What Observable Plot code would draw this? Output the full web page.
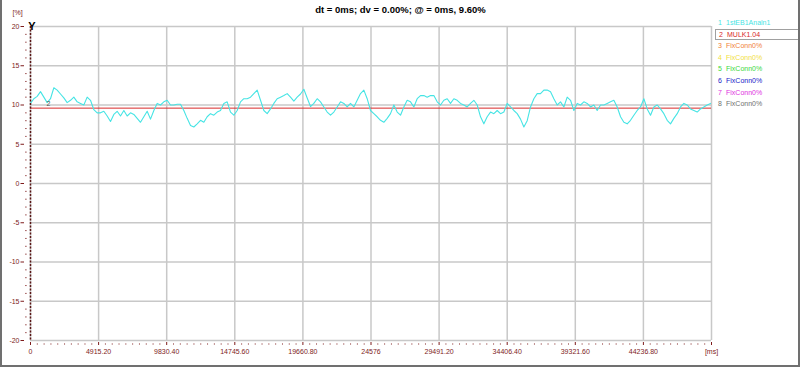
<!DOCTYPE html>
<html><head><meta charset="utf-8">
<script src="https://cdn.jsdelivr.net/npm/d3@7"></script>
<script src="https://cdn.jsdelivr.net/npm/@observablehq/plot@0.6"></script>
<style>
html,body{margin:0;padding:0;background:#fff;}
#wrap{position:relative;width:800px;height:367px;overflow:hidden;font-family:"Liberation Sans",Arial,sans-serif;}
#wrap svg{position:absolute;left:0;top:0;}
#border{position:absolute;left:0;top:0;width:800px;height:367px;box-sizing:border-box;border-left:2px solid #707070;border-right:2px solid #707070;border-bottom:2px solid #707070;pointer-events:none;}
#legend{position:absolute;left:715px;top:17px;width:90px;font-size:7px;}
.item{height:11.6px;line-height:11.6px;padding-left:3px;white-space:nowrap;box-sizing:border-box;}
.item .n{display:inline-block;width:8px;}
.boxed{border:1px solid #a0a0a0;line-height:9.6px;}
</style></head>
<body><div id="wrap"><div id="legend"></div><div id="border"></div></div>
<script>
// ---- data ----
const title = "dt = 0ms; dv = 0.00%; @ = 0ms, 9.60%";
const yUnit = "[%]";
const xUnit = "[ms]";
const xDomain = [0, 49152];
const yDomain = [-20, 20];
const xTicks = [0, 4915.2, 9830.4, 14745.6, 19660.8, 24576, 29491.2, 34406.4, 39321.6, 44236.8, 49152];
const xTickLabels = ["0", "4915.20", "9830.40", "14745.60", "19660.80", "24576", "29491.20", "34406.40", "39321.60", "44236.80", xUnit];
const yTicks = [-20, -15, -10, -5, 0, 5, 10, 15, 20];
const refLevel = 9.6;          // channel 2, MULK1.04
const refLabel = "2";
const refLabelMs = 1300;
const cursorMs = 0;
const sampleStepMs = 240.6;
// channel 1 (1stEB1Analn1), % values sampled every sampleStepMs
const channel1 = [
  10.2, 10.8, 11.1, 11.7, 11.0, 10.3, 10.8, 12.2, 11.9, 11.4,
  10.9, 10.3, 10.6, 11.0, 10.4, 10.2, 10.0, 11.0, 10.6, 9.4,
  9.0, 9.0, 9.2, 8.6, 7.9, 8.8, 9.2, 8.6, 9.3, 8.6,
  9.0, 8.8, 8.3, 7.8, 8.5, 9.2, 8.2, 9.3, 10.2, 10.0,
  10.4, 10.6,
  10.0, 10.0, 10.1, 10.1, 9.3, 8.3, 7.4, 7.2, 7.6, 8.05,
  7.8, 8.5, 8.9, 8.7, 9.1, 9.3, 10.2, 10.4, 9.1, 8.7,
  9.3, 10.4, 10.8, 10.8, 11.0, 11.45, 11.9, 10.6, 9.3, 8.9,
  9.5, 10.2, 10.8, 11.0, 11.2, 11.45,
  11.0, 10.5, 11.0, 11.4, 12.0, 10.9, 9.8, 10.2, 10.8, 10.4,
  9.75, 9.1, 8.7, 9.1, 9.75, 10.4, 10.2, 9.75, 10.2, 9.75,
  10.6, 11.45, 11.9, 10.8, 9.3, 8.9, 8.5, 8.05, 7.8, 8.3,
  8.9, 10.0, 9.1, 8.7, 9.75, 10.6, 10.4, 9.75, 10.8, 11.2,
  11.2, 11.0,
  11.2, 11.2, 10.4, 10.0, 10.6, 10.8, 10.2, 10.8, 10.6, 10.2,
  10.0, 9.75, 10.2, 10.6, 10.0, 8.5, 7.6, 8.5, 9.1, 8.9,
  9.3, 8.9, 9.1, 10.2, 9.75, 9.3, 8.9, 8.2, 7.2, 8.0,
  9.75, 10.8, 11.45, 11.45, 11.9, 11.9, 11.7, 10.8, 10.0, 10.4,
  9.75, 11.0, 10.6, 9.3, 10.2, 10.0, 10.4, 10.2, 9.75, 10.0,
  9.3,
  10.0, 10.0, 10.2, 10.4, 10.6, 9.75, 8.5, 7.8, 7.6, 8.05,
  8.7, 9.3, 9.75, 10.8, 9.5, 8.7, 9.75, 10.0, 9.5, 8.9,
  8.05, 7.6, 8.3, 8.9, 9.75, 10.2, 10.0, 9.5, 9.3, 9.1,
  9.5, 9.75, 10.0, 10.2
];
const legendNames = ["1stEB1Analn1", "MULK1.04", "FixConn0%", "FixConn0%", "FixConn0%", "FixConn0%", "FixConn0%", "FixConn0%"];
const legendColors = ["#46e4e4", "#d82828", "#f08038", "#f2e040", "#3cd83c", "#2020c8", "#e030e0", "#707070"];
const activeChannel = 2;

// ---- styles ----
const maroon = "#7e1c1c";
const gridColor = "#c8c8c8";

const series = channel1.map((v, i) => ({t: i * sampleStepMs, v}));
const yMinor = d3.range(yDomain[0], yDomain[1] + 0.5, 1).filter(d => !yTicks.includes(d));
const xMinor = d3.range(0, 10 * 10 + 1).map(k => k * xTicks[1] / 10).filter((d, k) => k % 10 !== 0);

const chart = Plot.plot({
  width: 800,
  height: 367,
  marginLeft: 30,
  marginRight: 89,
  marginTop: 26,
  marginBottom: 27,
  x: {domain: xDomain},
  y: {domain: yDomain},
  style: {fontFamily: "'Liberation Sans', Arial, sans-serif", background: "transparent", overflow: "visible"},
  marks: [
    Plot.gridY({ticks: yTicks, stroke: gridColor, strokeOpacity: 1, strokeWidth: 1.5}),
    Plot.gridX({ticks: xTicks, stroke: gridColor, strokeOpacity: 1, strokeWidth: 1.5}),
    Plot.ruleY([refLevel], {stroke: legendColors[1], strokeWidth: 1}),
    Plot.line(series, {x: "t", y: "v", stroke: legendColors[0], strokeWidth: 1.1}),
    Plot.text([refLabel], {x: refLabelMs, y: refLevel, text: d => d, dy: -4, fontSize: 7, fill: "#555"}),
    Plot.ruleX([cursorMs], {stroke: "#5a1515", strokeWidth: 1.5, strokeDasharray: "2,1.5"}),
    Plot.text([cursorMs], {x: d => d, frameAnchor: "top", text: () => "Y", dy: -4, dx: 1.5, fontWeight: "bold", fontSize: 11, fill: "black"}),
    // y axis
    Plot.axisY({ticks: yTicks, tickSize: 0, tickPadding: 11, tickFormat: d => String(d), fill: maroon, fontSize: 7, label: null}),
    Plot.axisY({ticks: yTicks, tickSize: 3.5, dx: -6, tickFormat: () => "", stroke: maroon, label: null}),
    Plot.axisY({ticks: yMinor, tickSize: 1.2, dx: -3.5, tickFormat: () => "", stroke: maroon, label: null}),
    // x axis
    Plot.axisX({ticks: xTicks, tickSize: 3, dy: 2, tickPadding: 4, tickFormat: d => xTickLabels[xTicks.indexOf(d)], fill: maroon, stroke: maroon, fontSize: 7, label: null}),
    Plot.axisX({ticks: xMinor, tickSize: 1, dy: 3.5, tickFormat: () => "", stroke: maroon, label: null}),
    // texts
    Plot.text([yUnit], {frameAnchor: "top-left", dx: -18, dy: -16, textAnchor: "start", fill: maroon, fontSize: 7, text: d => d}),
    Plot.text([title], {frameAnchor: "top", dx: 29.5, dy: -20, fontWeight: "bold", fontSize: 9.5, fill: "black", text: d => d})
  ]
});
document.getElementById("wrap").insertBefore(chart, document.getElementById("legend"));

const legend = document.getElementById("legend");
legendNames.forEach((name, i) => {
  const div = document.createElement("div");
  div.className = "item" + (i + 1 === activeChannel ? " boxed" : "");
  div.style.color = legendColors[i];
  div.innerHTML = `<span class="n">${i + 1}</span>${name}`;
  legend.appendChild(div);
});
</script></body></html>
